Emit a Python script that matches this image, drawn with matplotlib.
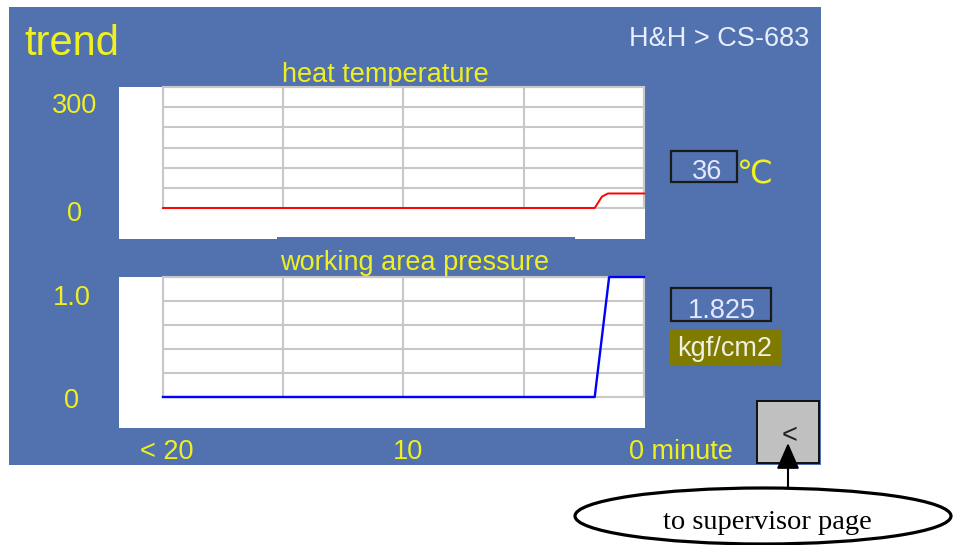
import numpy as np
import matplotlib
matplotlib.use('Agg')
import matplotlib.pyplot as plt
from matplotlib.patches import Rectangle, Ellipse

plt.rcParams['font.family'] = ['Liberation Sans', 'DejaVu Sans']

# trend data (minutes before now)
temp_minutes = [-20, -2.05, -1.75, -1.5, 0]
heat_temp = [0, 0, 28, 36, 36]
press_minutes = [-20, -2.05, -1.45, 0]
pressure = [0, 0, 1.825, 1.825]

temp_range = (0, 300)
press_range = (0, 1.0)
temp_ticklabels = ["300", "0"]
press_ticklabels = ["1.0", "0"]
time_labels = ["< 20", "10", "0 minute"]
current_temp = "36"
current_press = "1.825"

W, H = 954, 545
BLUE = "#5272AF"
YELLOW = "#F0F020"
GRIDC = "#C8C8C8"
FS = 19.5

fig = plt.figure(figsize=(W / 100, H / 100), dpi=100)
fig.patch.set_facecolor("white")

# overlay in pixel coordinates for the screen frame
bg = fig.add_axes([0, 0, 1, 1], zorder=0)
bg.set_xlim(0, W)
bg.set_ylim(H, 0)
bg.axis("off")


def rect(x0, y0, x1, y1, **kw):
    bg.add_patch(Rectangle((x0, y0), x1 - x0, y1 - y0, **kw))


def px_axes(x0, y0, x1, y1):
    return fig.add_axes([x0 / W, 1 - y1 / H, (x1 - x0) / W, (y1 - y0) / H], zorder=2)


def label(x, y, s, color=YELLOW, ha="center", size=FS, **kw):
    bg.text(x, y, s, color=color, fontsize=size, ha=ha, va="baseline", **kw)


rect(9, 7, 821, 465, facecolor=BLUE, edgecolor="none")
rect(119, 87, 645, 239, facecolor="white", edgecolor="none")
rect(277, 237, 575, 239.5, facecolor=BLUE, edgecolor="none")
rect(119, 277, 645, 428, facecolor="white", edgecolor="none")

label(24, 55, "trend", ha="left", size=30)
label(809, 46, "H&H > CS-683", color="#E8EEFF", ha="right")
label(385, 82, "heat temperature")
label(415, 270, "working area pressure")

# y labels on the blue frame
label(75, 113, temp_ticklabels[0])
label(75, 221, temp_ticklabels[1])
label(72, 305, press_ticklabels[0])
label(72, 408, press_ticklabels[1])

# time axis labels
label(167, 459, time_labels[0])
label(408, 459, time_labels[1])
label(681, 459, time_labels[2])

# current value boxes
rect(671, 151, 737, 182, facecolor="none", edgecolor="#1A1A1A", lw=1.6)
label(707, 179, current_temp, color="#E6E6FF")
label(755, 183, "℃", size=23)
rect(671, 288, 771, 321, facecolor="none", edgecolor="#1A1A1A", lw=1.6)
label(722, 318, current_press, color="#E6E6FF")
rect(670, 329, 781, 366, facecolor="#7F7A00", edgecolor="none")
label(725, 356, "kgf/cm2", color="#F0F0E0")

# back button
rect(757, 401, 819, 463, facecolor="#C0C0C0", edgecolor="#111111", lw=1.4)
bg.text(790, 436, "<", color="#222222", fontsize=FS, ha="center", va="center")

# callout
bg.add_patch(Ellipse((763, 516), 376, 56, facecolor="white", edgecolor="black", lw=2.3))
bg.annotate("", xy=(788, 443), xytext=(788, 488),
            arrowprops=dict(arrowstyle="-|>,head_length=0.8,head_width=0.35",
                            color="black", lw=1.5, mutation_scale=20,
                            shrinkA=0, shrinkB=0))
bg.text(767, 529, "to supervisor page", fontsize=20.5, family="Liberation Serif",
        ha="center", va="baseline")


def style_trend(ax, ylim, nrows):
    ax.set_xlim(-20, 0)
    ax.set_ylim(*ylim)
    ax.set_xticks(np.linspace(-20, 0, 5))
    ax.set_yticks(np.linspace(ylim[0], ylim[1], nrows + 1))
    ax.grid(True, color=GRIDC, lw=1.5)
    ax.tick_params(length=0, labelbottom=False, labelleft=False)
    for s in ax.spines.values():
        s.set_color(GRIDC)
        s.set_linewidth(1.5)
    ax.set_facecolor("white")


ax1 = px_axes(163, 87, 644, 208)
style_trend(ax1, temp_range, 6)
ax1.plot(temp_minutes, heat_temp, color="#FF0000", lw=1.4, clip_on=False, zorder=5)

ax2 = px_axes(163, 277, 644, 397)
style_trend(ax2, press_range, 5)
ax2.plot(press_minutes, np.minimum(pressure, press_range[1]), color="#0000FF",
         lw=1.7, clip_on=False, zorder=5)

fig.savefig("out.png", dpi=100)
